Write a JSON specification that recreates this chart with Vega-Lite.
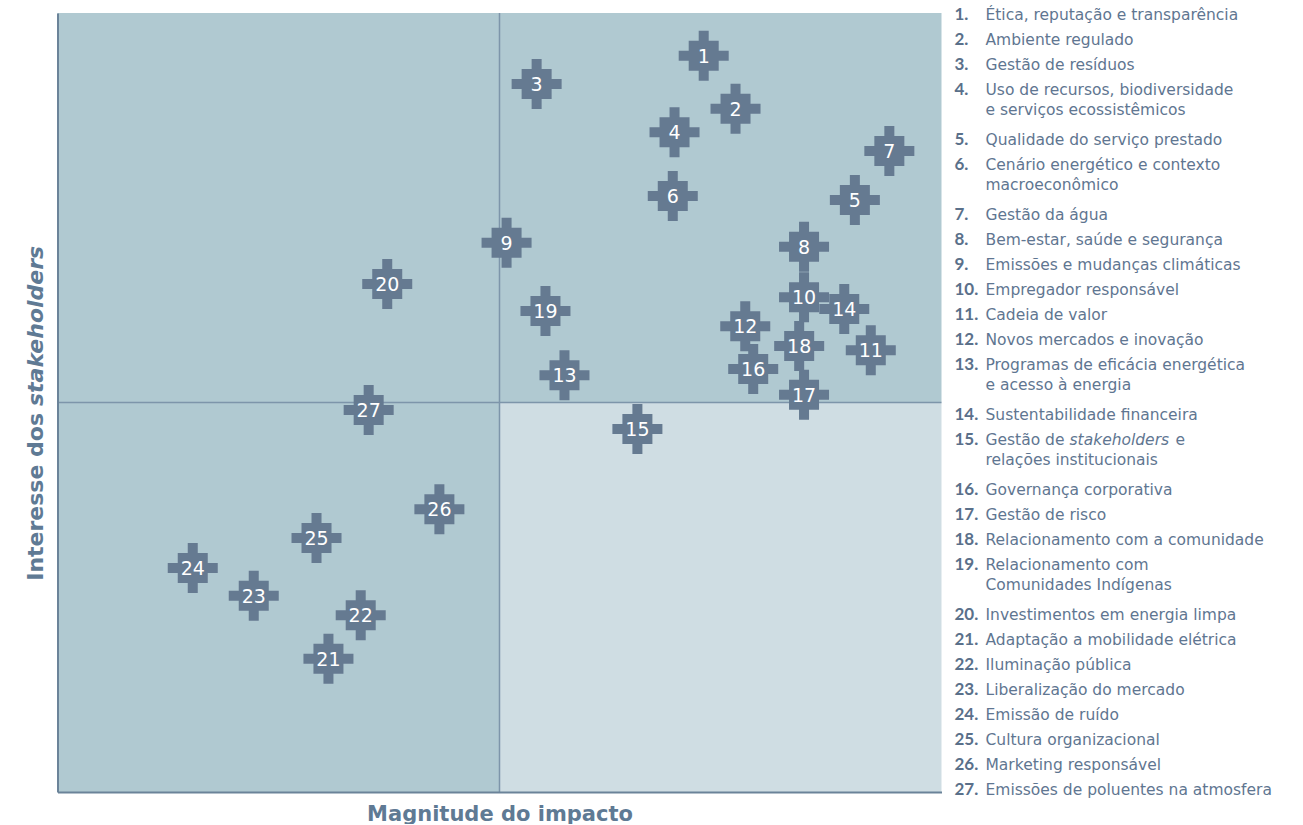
{
  "$schema": "https://vega.github.io/schema/vega-lite/v6.json",
  "background": "white",
  "padding": {"left": 23.5, "top": 6, "right": 0, "bottom": 0},
  "config": {"view": {"stroke": null}},
  "bounds": "flush",
  "spacing": 13,
  "datasets": {
    "quadrants": [
      {"x1": 0, "x2": 50, "y1": 50, "y2": 100, "shade": "dark"},
      {"x1": 50, "x2": 100, "y1": 50, "y2": 100, "shade": "dark"},
      {"x1": 0, "x2": 50, "y1": 0, "y2": 50, "shade": "dark"},
      {"x1": 50, "x2": 100, "y1": 0, "y2": 50, "shade": "light"}
    ],
    "points": [
      {"n": 1, "x": 73.1, "y": 94.5},
      {"n": 2, "x": 76.7, "y": 87.7},
      {"n": 3, "x": 54.2, "y": 90.9},
      {"n": 4, "x": 69.8, "y": 84.7},
      {"n": 5, "x": 90.2, "y": 76.0},
      {"n": 6, "x": 69.6, "y": 76.5},
      {"n": 7, "x": 94.1, "y": 82.3},
      {"n": 8, "x": 84.45, "y": 70.0},
      {"n": 9, "x": 50.8, "y": 70.5},
      {"n": 10, "x": 84.45, "y": 63.5},
      {"n": 11, "x": 92.0, "y": 56.7},
      {"n": 12, "x": 77.8, "y": 59.8},
      {"n": 13, "x": 57.35, "y": 53.5},
      {"n": 14, "x": 89.0, "y": 62.0},
      {"n": 15, "x": 65.6, "y": 46.6},
      {"n": 16, "x": 78.7, "y": 54.3},
      {"n": 17, "x": 84.45, "y": 51.0},
      {"n": 18, "x": 83.9, "y": 57.25},
      {"n": 19, "x": 55.2, "y": 61.75},
      {"n": 20, "x": 37.3, "y": 65.2},
      {"n": 21, "x": 30.65, "y": 17.1},
      {"n": 22, "x": 34.3, "y": 22.7},
      {"n": 23, "x": 22.2, "y": 25.2},
      {"n": 24, "x": 15.3, "y": 28.75},
      {"n": 25, "x": 29.3, "y": 32.6},
      {"n": 26, "x": 43.2, "y": 36.3},
      {"n": 27, "x": 35.2, "y": 49.05}
    ],
    "legend": [
      {"n": 1, "num": "1.", "label": "Ética, reputação e transparência", "row": 0},
      {"n": 2, "num": "2.", "label": "Ambiente regulado", "row": 1},
      {"n": 3, "num": "3.", "label": "Gestão de resíduos", "row": 2},
      {"n": 4, "num": "4.", "label": "Uso de recursos, biodiversidade\ne serviços ecossistêmicos", "row": 3},
      {"n": 5, "num": "5.", "label": "Qualidade do serviço prestado", "row": 5},
      {"n": 6, "num": "6.", "label": "Cenário energético e contexto\nmacroeconômico", "row": 6},
      {"n": 7, "num": "7.", "label": "Gestão da água", "row": 8},
      {"n": 8, "num": "8.", "label": "Bem-estar, saúde e segurança", "row": 9},
      {"n": 9, "num": "9.", "label": "Emissões e mudanças climáticas", "row": 10},
      {"n": 10, "num": "10.", "label": "Empregador responsável", "row": 11},
      {"n": 11, "num": "11.", "label": "Cadeia de valor", "row": 12},
      {"n": 12, "num": "12.", "label": "Novos mercados e inovação", "row": 13},
      {"n": 13, "num": "13.", "label": "Programas de eficácia energética\ne acesso à energia", "row": 14},
      {"n": 14, "num": "14.", "label": "Sustentabilidade financeira", "row": 16},
      {"n": 15, "num": "15.", "label": "Gestão de\nrelações institucionais", "row": 17},
      {"n": 16, "num": "16.", "label": "Governança corporativa", "row": 19},
      {"n": 17, "num": "17.", "label": "Gestão de risco", "row": 20},
      {"n": 18, "num": "18.", "label": "Relacionamento com a comunidade", "row": 21},
      {"n": 19, "num": "19.", "label": "Relacionamento com\nComunidades Indígenas", "row": 22},
      {"n": 20, "num": "20.", "label": "Investimentos em energia limpa", "row": 24},
      {"n": 21, "num": "21.", "label": "Adaptação a mobilidade elétrica", "row": 25},
      {"n": 22, "num": "22.", "label": "Iluminação pública", "row": 26},
      {"n": 23, "num": "23.", "label": "Liberalização do mercado", "row": 27},
      {"n": 24, "num": "24.", "label": "Emissão de ruído", "row": 28},
      {"n": 25, "num": "25.", "label": "Cultura organizacional", "row": 29},
      {"n": 26, "num": "26.", "label": "Marketing responsável", "row": 30},
      {"n": 27, "num": "27.", "label": "Emissões de poluentes na atmosfera", "row": 31}
    ]
  },
  "hconcat": [
    {
      "width": 884,
      "height": 779,
      "layer": [
        {
          "data": {"name": "quadrants"},
          "mark": {"type": "rect"},
          "encoding": {
            "x": {"field": "x1", "type": "quantitative",
              "scale": {"domain": [0, 100], "nice": false, "zero": false},
              "axis": {"domain": true, "domainColor": "#6b8399", "domainWidth": 2, "ticks": false, "labels": false, "grid": false,
                "title": "Magnitude do impacto", "titleFont": "DejaVu Sans", "titleFontSize": 21, "titleFontWeight": "bold",
                "titleColor": "#5f7a94", "titlePadding": 11, "zindex": 1}},
            "x2": {"field": "x2"},
            "y": {"field": "y1", "type": "quantitative",
              "scale": {"domain": [0, 100], "nice": false, "zero": false},
              "axis": {"domain": true, "domainColor": "#6b8399", "domainWidth": 2, "ticks": false, "labels": false, "grid": false,
                "title": null, "zindex": 1}},
            "y2": {"field": "y2"},
            "color": {"field": "shade", "type": "nominal",
              "scale": {"domain": ["dark", "light"], "range": ["#b0c9d1", "#cfdde3"]}, "legend": null}
          }
        },
        {
          "data": {"values": [{}]},
          "mark": {"type": "rule", "color": "#7d95aa", "strokeWidth": 1.5},
          "encoding": {"x": {"datum": 50, "type": "quantitative"}}
        },
        {
          "data": {"values": [{}]},
          "mark": {"type": "rule", "color": "#7d95aa", "strokeWidth": 1.5},
          "encoding": {"y": {"datum": 50, "type": "quantitative"}}
        },
        {
          "data": {"name": "points"},
          "mark": {"type": "point",
            "shape": "M-0.2,-1H0.2V-0.6H0.6V-0.2H1V0.2H0.6V0.6H0.2V1H-0.2V0.6H-0.6V0.2H-1V-0.2H-0.6V-0.6H-0.2Z",
            "size": 2500, "filled": true, "color": "#657a91", "opacity": 1, "strokeWidth": 0},
          "encoding": {
            "x": {"field": "x", "type": "quantitative"},
            "y": {"field": "y", "type": "quantitative"}
          }
        },
        {
          "data": {"name": "points"},
          "mark": {"type": "text", "color": "white", "font": "DejaVu Sans", "fontSize": 19,
            "align": "center", "baseline": "middle", "dy": 1},
          "encoding": {
            "x": {"field": "x", "type": "quantitative"},
            "y": {"field": "y", "type": "quantitative"},
            "text": {"field": "n", "type": "nominal"}
          }
        },
        {
          "data": {"values": [{}]},
          "mark": {"type": "text", "text": "Interesse dos", "angle": 270, "align": "right", "baseline": "alphabetic",
            "dx": -10.5, "dy": -15, "font": "DejaVu Sans", "fontSize": 22, "fontWeight": "bold", "color": "#5f7a94"},
          "encoding": {"x": {"datum": 0, "type": "quantitative"}, "y": {"datum": 50, "type": "quantitative"}}
        },
        {
          "data": {"values": [{}]},
          "mark": {"type": "text", "text": "stakeholders", "angle": 270, "align": "left", "baseline": "alphabetic",
            "dx": -3.5, "dy": -15, "font": "DejaVu Sans", "fontSize": 22, "fontWeight": "bold", "fontStyle": "italic", "color": "#5f7a94"},
          "encoding": {"x": {"datum": 0, "type": "quantitative"}, "y": {"datum": 50, "type": "quantitative"}}
        }
      ]
    },
    {
      "width": 320,
      "height": 775,
      "data": {"name": "legend"},
      "encoding": {
        "x": {"datum": 0, "type": "quantitative", "scale": {"domain": [0, 1]}, "axis": null},
        "y": {"field": "row", "type": "quantitative", "scale": {"domain": [0, 31], "reverse": true, "nice": false, "zero": false}, "axis": null}
      },
      "layer": [
        {
          "mark": {"type": "text", "align": "left", "baseline": "alphabetic", "dy": 7,
            "font": "Lato", "fontWeight": "bold", "fontSize": 17, "color": "#5a708a"},
          "encoding": {"text": {"field": "num", "type": "nominal"}}
        },
        {
          "mark": {"type": "text", "align": "left", "baseline": "alphabetic", "dy": 7, "dx": 31,
            "lineBreak": "\n", "lineHeight": 20,
            "font": "DejaVu Sans", "fontSize": 15.5, "color": "#5f7691"},
          "encoding": {"text": {"field": "label", "type": "nominal"}}
        },
        {
          "transform": [{"filter": "datum.n == 15"}],
          "mark": {"type": "text", "align": "left", "baseline": "alphabetic", "dy": 7, "dx": 115,
            "text": "stakeholders", "font": "DejaVu Sans", "fontStyle": "italic", "fontSize": 15.5, "color": "#5f7691"}
        },
        {
          "transform": [{"filter": "datum.n == 15"}],
          "mark": {"type": "text", "align": "left", "baseline": "alphabetic", "dy": 7, "dx": 221,
            "text": "e", "font": "DejaVu Sans", "fontSize": 15.5, "color": "#5f7691"}
        }
      ]
    }
  ]
}
